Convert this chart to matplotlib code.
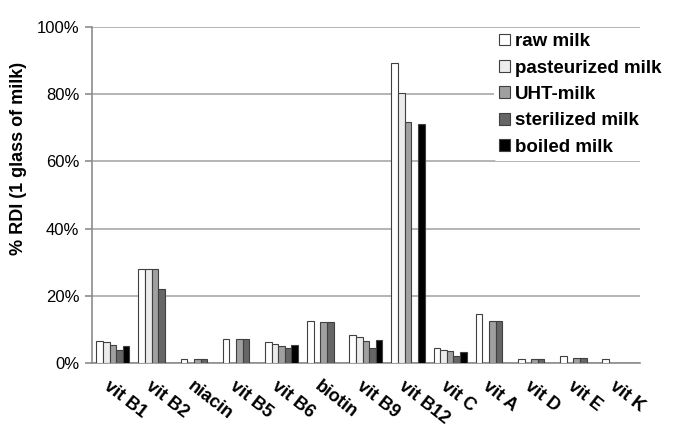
import numpy as np
import matplotlib
matplotlib.use("Agg")
import matplotlib.pyplot as plt
from matplotlib.ticker import PercentFormatter

plt.rcParams['font.family'] = ['Liberation Sans', 'DejaVu Sans']

categories = ["vit B1", "vit B2", "niacin", "vit B5", "vit B6", "biotin", "vit B9",
              "vit B12", "vit C", "vit A", "vit D", "vit E", "vit K"]
series_names = ["raw milk", "pasteurized milk", "UHT-milk", "sterilized milk", "boiled milk"]
nan = np.nan
raw_milk        = [6.6, 28.0, 1.3, 7.2, 6.2, 12.4, 8.3, 89.3, 4.4, 14.6, 1.1, 2.1, 1.1]
pasteurized     = [6.2, 28.0, nan, nan, 5.7, nan, 7.6, 80.4, 4.0, nan, nan, nan, nan]
uht_milk        = [5.4, 28.0, 1.3, 7.0, 5.2, 12.3, 6.6, 71.7, 3.7, 12.4, 1.3, 1.4, nan]
sterilized_milk = [4.0, 22.0, 1.3, 7.0, 4.6, 12.3, 4.4, nan, 2.2, 12.4, 1.3, 1.4, nan]
boiled_milk     = [5.1, nan, nan, nan, 5.3, nan, 6.8, 71.2, 3.3, nan, nan, nan, nan]
values = [raw_milk, pasteurized, uht_milk, sterilized_milk, boiled_milk]
colors = ["#ffffff", "#ececec", "#a0a0a0", "#666666", "#000000"]

fig = plt.figure(figsize=(6.8, 4.4), dpi=100)
ax = fig.add_axes([0.135, 0.175, 0.806, 0.764])

x = np.arange(len(categories))
w = 0.157
for j, (name, vals, c) in enumerate(zip(series_names, values, colors)):
    ax.bar(x + (j - 2) * w, vals, width=w, color=c, edgecolor="#404040",
           linewidth=0.8, label=name, zorder=3)

ax.set_xlim(-0.5, len(categories) - 0.5)
ax.set_ylim(0, 100)
ax.set_yticks([0, 20, 40, 60, 80, 100])
ax.yaxis.set_major_formatter(PercentFormatter(decimals=0))
ax.grid(axis="y", color="#a8a8a8", linewidth=1.2, zorder=0)
ax.set_axisbelow(True)
for s in ["top", "right"]:
    ax.spines[s].set_visible(False)
for s in ["left", "bottom"]:
    ax.spines[s].set_color("#8c8c8c")
    ax.spines[s].set_linewidth(1.2)
ax.tick_params(axis="y", length=5, width=1.2, color="#8c8c8c", labelsize=12, pad=4)
ax.tick_params(axis="x", length=0, pad=0)
ax.set_xticks(x)
ax.set_xticklabels([])
for xi, lab in zip(x, categories):
    ax.text(xi - 0.05, -4.5, lab, rotation=-38, rotation_mode="anchor",
            ha="left", va="top", fontsize=13, fontweight="bold",
            transform=ax.transData, clip_on=False)

ax.set_ylabel("% RDI (1 glass of milk)", fontsize=13, fontweight="bold")
ax.yaxis.set_label_coords(-0.118, 0.61)

leg = ax.legend(loc="upper left", bbox_to_anchor=(0.733, 0.998), frameon=True,
                fontsize=13.5, handlelength=0.6, handleheight=0.6, handletextpad=0.25,
                labelspacing=0.5, borderpad=0.3, borderaxespad=0)
leg.get_frame().set_facecolor("white")
leg.get_frame().set_edgecolor("none")
leg.get_frame().set_alpha(1)
for t in leg.get_texts():
    t.set_fontweight("bold")

fig.savefig("out.png", dpi=100)
